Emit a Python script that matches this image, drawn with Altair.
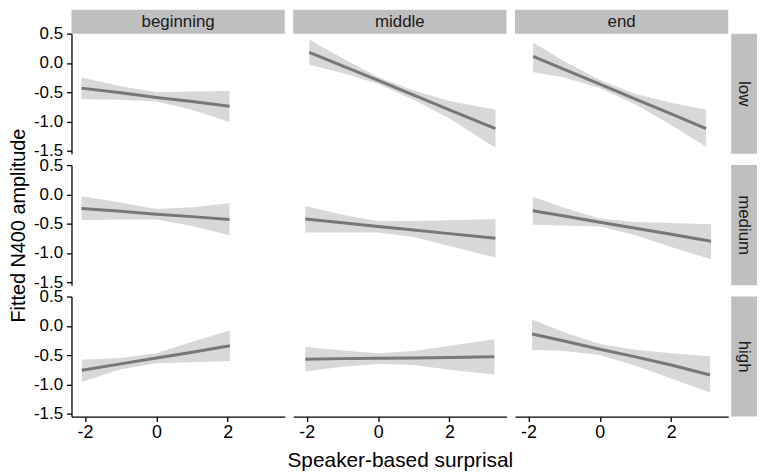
import altair as alt
import pandas as pd

# ---------------- data ----------------
positions = ["beginning", "middle", "end"]
levels = ["low", "medium", "high"]

# low
x_low_beginning = [-2.1, -1, 0, 1, 2.05]
fit_low_beginning = [-0.43, -0.51, -0.59, -0.66, -0.74]
lo_low_beginning = [-0.62, -0.63, -0.66, -0.80, -1.01]
hi_low_beginning = [-0.25, -0.40, -0.50, -0.49, -0.48]

x_low_middle = [-1.93, -1, 0, 1, 2, 3.29]
fit_low_middle = [0.18, -0.05, -0.30, -0.55, -0.80, -1.12]
lo_low_middle = [-0.03, -0.17, -0.36, -0.63, -0.95, -1.45]
hi_low_middle = [0.40, 0.08, -0.24, -0.47, -0.65, -0.80]

x_low_end = [-1.87, -1, 0, 1, 2, 2.98]
fit_low_end = [0.11, -0.11, -0.36, -0.62, -0.87, -1.12]
lo_low_end = [-0.16, -0.25, -0.43, -0.71, -1.06, -1.43]
hi_low_end = [0.35, 0.03, -0.29, -0.53, -0.68, -0.80]

# medium
x_medium_beginning = [-2.1, -1, 0, 1, 2.05]
fit_medium_beginning = [-0.24, -0.29, -0.34, -0.38, -0.43]
lo_medium_beginning = [-0.44, -0.43, -0.43, -0.54, -0.70]
hi_medium_beginning = [-0.03, -0.14, -0.25, -0.22, -0.15]

x_medium_middle = [-2.04, -1, 0, 1, 2, 3.29]
fit_medium_middle = [-0.42, -0.485, -0.55, -0.61, -0.67, -0.75]
lo_medium_middle = [-0.65, -0.65, -0.65, -0.73, -0.88, -1.08]
hi_medium_middle = [-0.20, -0.35, -0.46, -0.455, -0.44, -0.42]

x_medium_end = [-1.88, -1, 0, 1, 2, 3.12]
fit_medium_end = [-0.28, -0.37, -0.475, -0.58, -0.68, -0.80]
lo_medium_end = [-0.52, -0.53, -0.55, -0.70, -0.90, -1.11]
hi_medium_end = [-0.04, -0.23, -0.41, -0.47, -0.49, -0.51]

# high
x_high_beginning = [-2.09, -1, 0, 1, 2.06]
fit_high_beginning = [-0.76, -0.65, -0.55, -0.45, -0.34]
lo_high_beginning = [-0.96, -0.74, -0.64, -0.62, -0.60]
hi_high_beginning = [-0.58, -0.55, -0.47, -0.27, -0.08]

x_high_middle = [-2.04, -1, 0, 1, 2, 3.26]
fit_high_middle = [-0.57, -0.56, -0.555, -0.55, -0.54, -0.53]
lo_high_middle = [-0.78, -0.70, -0.65, -0.67, -0.75, -0.83]
hi_high_middle = [-0.36, -0.42, -0.47, -0.43, -0.34, -0.23]

x_high_end = [-1.9, -1, 0, 1, 2, 3.09]
fit_high_end = [-0.14, -0.26, -0.40, -0.53, -0.67, -0.84]
lo_high_end = [-0.41, -0.43, -0.50, -0.68, -0.90, -1.14]
hi_high_end = [0.11, -0.11, -0.31, -0.41, -0.47, -0.52]

x_ticks = [-2, 0, 2]
y_ticks = [-1.5, -1.0, -0.5, 0.0, 0.5]
x_title = "Speaker-based surprisal"
y_title = "Fitted N400 amplitude"

panels = {
    ("low", "beginning"): (x_low_beginning, fit_low_beginning, lo_low_beginning, hi_low_beginning),
    ("low", "middle"): (x_low_middle, fit_low_middle, lo_low_middle, hi_low_middle),
    ("low", "end"): (x_low_end, fit_low_end, lo_low_end, hi_low_end),
    ("medium", "beginning"): (x_medium_beginning, fit_medium_beginning, lo_medium_beginning, hi_medium_beginning),
    ("medium", "middle"): (x_medium_middle, fit_medium_middle, lo_medium_middle, hi_medium_middle),
    ("medium", "end"): (x_medium_end, fit_medium_end, lo_medium_end, hi_medium_end),
    ("high", "beginning"): (x_high_beginning, fit_high_beginning, lo_high_beginning, hi_high_beginning),
    ("high", "middle"): (x_high_middle, fit_high_middle, lo_high_middle, hi_high_middle),
    ("high", "end"): (x_high_end, fit_high_end, lo_high_end, hi_high_end),
}

# ---------------- styling ----------------
W, H = 215, 121
XDOM = [-2.38, 3.6]
YDOM = [-1.55, 0.5]
FONT = "Liberation Sans"
STRIP = "#bfbfbf"
BAND = "#d8d8d8"
LINE = "#777777"
STRIP_H = 24


def minus_expr(fmt):
    return ("datum.value < 0 ? '-' + format(-datum.value, '%s') : format(datum.value, '%s')"
            % (fmt, fmt))


def panel(ri, ci):
    level = levels[ri]
    pos = positions[ci]
    xs, fit, lo, hi = panels[(level, pos)]
    df = pd.DataFrame({"x": xs, "fit": fit, "lo": lo, "hi": hi})

    xscale = alt.Scale(domain=XDOM, nice=False, zero=False)
    yscale = alt.Scale(domain=YDOM, nice=False, zero=False)

    if ri == 2:
        xaxis = alt.Axis(values=x_ticks, labelExpr=minus_expr("d"), grid=False)
        xtitle = x_title if ci == 1 else None
        xenc = alt.X("x:Q", scale=xscale, axis=xaxis, title=xtitle)
    else:
        xenc = alt.X("x:Q", scale=xscale, axis=None)

    if ci == 0:
        yaxis = alt.Axis(values=y_ticks, labelExpr=minus_expr(".1f"), grid=False)
        ytitle = y_title if ri == 1 else None
        ylo = alt.Y("lo:Q", scale=yscale, axis=yaxis, title=ytitle)
        yfit = alt.Y("fit:Q", scale=yscale, axis=yaxis, title=ytitle)
    else:
        ylo = alt.Y("lo:Q", scale=yscale, axis=None)
        yfit = alt.Y("fit:Q", scale=yscale, axis=None)

    base = alt.Chart(df)
    band = base.mark_area(color=BAND, opacity=1).encode(x=xenc, y=ylo, y2="hi:Q")
    line = base.mark_line(color=LINE, strokeWidth=3).encode(x=xenc, y=yfit)
    layers = [band, line]

    if ri == 0:
        sdf = pd.DataFrame({"label": [pos]})
        layers.append(
            alt.Chart(sdf).mark_rect(color=STRIP).encode(
                x=alt.value(0), x2=alt.value(W), y=alt.value(-STRIP_H), y2=alt.value(0)))
        layers.append(
            alt.Chart(sdf).mark_text(font=FONT, fontSize=17, color="#1a1a1a",
                                     baseline="middle", align="center").encode(
                x=alt.value(W / 2), y=alt.value(-STRIP_H / 2 + 0.5), text="label:N"))
    if ci == 2:
        rdf = pd.DataFrame({"label": [level]})
        layers.append(
            alt.Chart(rdf).mark_rect(color=STRIP).encode(
                x=alt.value(W + 3), x2=alt.value(W + 29), y=alt.value(0), y2=alt.value(H)))
        layers.append(
            alt.Chart(rdf).mark_text(font=FONT, fontSize=17, color="#1a1a1a", angle=90,
                                     baseline="middle", align="center").encode(
                x=alt.value(W + 16), y=alt.value(H / 2), text="label:N"))

    return alt.layer(*layers).properties(width=W, height=H)


cells = [panel(ri, ci) for ri in range(3) for ci in range(3)]

chart = alt.concat(
    *cells, columns=3, spacing={"row": 11.5, "column": 8.5}, bounds="flush"
).properties(
    padding={"left": 0, "top": 0, "right": 0, "bottom": 0}
).configure_view(
    strokeWidth=0
).configure_axis(
    domainColor="black", tickColor="black", labelColor="black", titleColor="black",
    domainWidth=1.3, tickWidth=1.3, tickSize=5, grid=False,
    labelFont=FONT, titleFont=FONT, titleFontWeight="normal",
).configure_axisX(
    labelFontSize=18, titleFontSize=21, labelPadding=2, titlePadding=8,
).configure_axisY(
    labelFontSize=17, titleFontSize=20, labelPadding=4, titlePadding=5,
)

chart.save("out.html", embed_options={"renderer": "svg", "actions": False})
